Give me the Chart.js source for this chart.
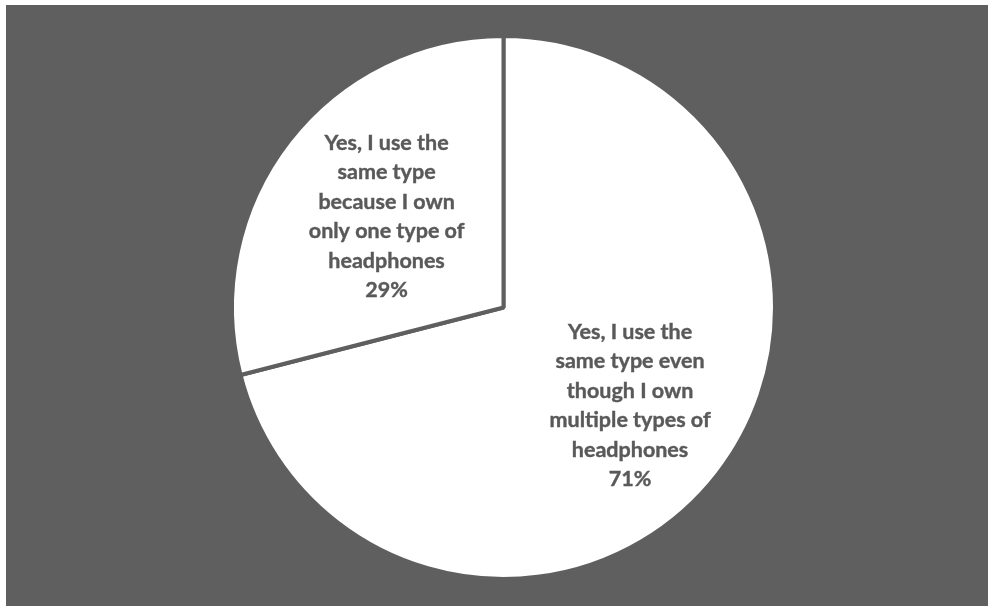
<!DOCTYPE html>
<html>
<head>
<meta charset="utf-8">
<script src="https://cdn.jsdelivr.net/npm/chart.js@4/dist/chart.umd.min.js"></script>
<style>
  html, body { margin: 0; padding: 0; background: #ffffff; }
  #wrap {
    position: absolute; left: 6px; top: 5px;
    width: 982px; height: 601px;
    background: #5f5f5f;
  }
</style>
</head>
<body>
<div id="wrap"><canvas id="pieChart"></canvas></div>
<script>
// chart data
const categories = [
    ['Yes, I use the', 'same type even', 'though I own', 'multiple types of', 'headphones'],
    ['Yes, I use the', 'same type', 'because I own', 'only one type of', 'headphones']
];
const shares = [71, 29];
const sliceColors = ['#ffffff', '#ffffff'];

// where the label sits along the slice middle, as a part of the radius
const labelRadius = [0.59, 0.545];

const sliceLabels = {
    id: 'sliceLabels',
    afterDatasetsDraw(chart) {
        const ctx = chart.ctx;
        const meta = chart.getDatasetMeta(0);
        const total = shares.reduce((a, b) => a + b, 0);
        ctx.save();
        ctx.fillStyle = '#595959';
        ctx.font = 'bold 21.5px Lato';
        ctx.textAlign = 'center';
        ctx.textBaseline = 'middle';
        meta.data.forEach((arc, i) => {
            const p = arc.getProps(['x', 'y', 'startAngle', 'endAngle', 'outerRadius'], true);
            const mid = (p.startAngle + p.endAngle) / 2;
            const r = p.outerRadius * labelRadius[i];
            const cx = p.x + Math.cos(mid) * r;
            const cy = p.y + Math.sin(mid) * r;
            const lines = categories[i].concat([Math.round(shares[i] / total * 100) + '%']);
            const lh = 29.5;
            const top = cy - (lines.length - 1) * lh / 2;
            lines.forEach((t, k) => {
                // a thin stroke to get closer to the heavier original face
                ctx.lineWidth = 0.4;
                ctx.strokeStyle = '#595959';
                ctx.strokeText(t, cx, top + k * lh);
                ctx.fillText(t, cx, top + k * lh);
            });
        });
        ctx.restore();
    }
};

new Chart(document.getElementById('pieChart'), {
    type: 'pie',
    data: {
        labels: categories,
        datasets: [{
            data: shares,
            backgroundColor: sliceColors,
            borderColor: '#5f5f5f',
            borderWidth: 4,
            hoverOffset: 0
        }]
    },
    options: {
        responsive: true,
        maintainAspectRatio: false,
        animation: false,
        layout: {
            padding: { top: 29, bottom: 25, left: 224, right: 211 }
        },
        plugins: {
            legend: { display: false },
            tooltip: { enabled: false }
        }
    },
    plugins: [sliceLabels]
});
</script>
</body>
</html>
